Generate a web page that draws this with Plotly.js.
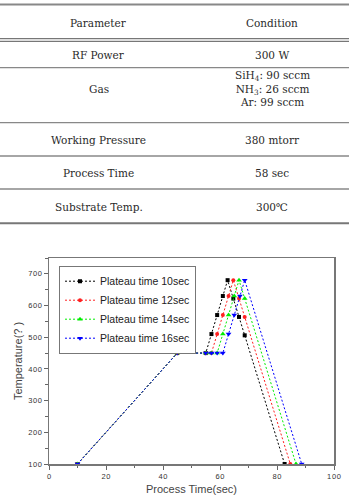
<!DOCTYPE html>
<html>
<head>
<meta charset="utf-8">
<script src="https://cdn.plot.ly/plotly-3.0.1.min.js"></script>
<style>
  html, body { margin: 0; padding: 0; background: #fff; }
  #chart { width: 349px; height: 498px; }
</style>
</head>
<body>
<div id="chart"></div>
<script>
// ---- Deposition conditions table ----
const tableHeader = ['Parameter', 'Condition'];
const paramNames = ['RF Power', 'Gas', 'Working Pressure', 'Process Time', 'Substrate Temp.'];
const paramValues = ['300 W', null, '380 mtorr', '58 sec', '300℃'];
const gasLines = ['SiH<sub>4</sub>: 90 sccm', 'NH<sub>3</sub>: 26 sccm', 'Ar: 99 sccm'];

// ---- Temperature profiles (time in sec, temperature) ----
const seriesNames = ['Plateau time 10sec', 'Plateau time 12sec', 'Plateau time 14sec', 'Plateau time 16sec'];
const time10 = [10, 45, 55, 57, 59, 61, 62.67, 64.67, 66.67, 68.67, 82.67];
const temp10 = [100, 450, 450, 510, 570, 630, 680, 622, 564, 506, 100];
const time12 = [10, 45, 55, 57, 59, 61, 63, 64.67, 66.67, 68.67, 84.67];
const temp12 = [100, 450, 450, 450, 510, 570, 630, 680, 622, 564, 100];
const time14 = [10, 45, 55, 57, 59, 61, 63, 65, 66.67, 68.67, 86.67];
const temp14 = [100, 450, 450, 450, 450, 510, 570, 630, 680, 622, 100];
const time16 = [10, 45, 55, 57, 59, 61, 63, 65, 67, 68.67, 88.67];
const temp16 = [100, 450, 450, 450, 450, 450, 510, 570, 630, 680, 100];

const xTickVals = [0, 20, 40, 60, 80, 100];
const yTickVals = [100, 200, 300, 400, 500, 600, 700];

// ---- page geometry ----
const W = 349, H = 498;
const M = { l: 49, r: 15, t: 258, b: 34 };
const PW = W - M.l - M.r, PH = H - M.t - M.b;
const px2x = p => (p - M.l) / PW;          // page pixel -> paper x
const py2y = p => (H - M.b - p) / PH;      // page pixel -> paper y

// spaced digits for the tick labels
const spaced = v => String(v).split('').join('\u200a');

const styles = [
  { color: '#000000', symbol: 'square', size: 4 },
  { color: '#ff2020', symbol: 'circle', size: 4 },
  { color: '#00ee00', symbol: 'triangle-up', size: 5 },
  { color: '#0000ff', symbol: 'triangle-down', size: 5 }
];
const xs = [time10, time12, time14, time16];
const ys = [temp10, temp12, temp14, temp16];

const traces = seriesNames.map((name, i) => ({
  type: 'scatter',
  mode: 'lines+markers',
  name: name,
  x: xs[i],
  y: ys[i],
  line: { color: styles[i].color, width: 1, dash: '2px,2px' },
  marker: { color: styles[i].color, symbol: styles[i].symbol, size: styles[i].size, line: { width: 0 } }
}));

// ---- table: rules and text ----
const tableFont = { family: 'DejaVu Serif', size: 10.5, color: '#2a2a2a' };
const colX = [98.5, 272];
const headerY = 23.3;
const rowY = [55, 89, 140, 173.3, 206.7];
const ruleLines = [
  { y: 4.5, w: 1.8, c: '#888' },
  { y: 38.6, w: 1.2, c: '#777' },
  { y: 41.4, w: 1.2, c: '#777' },
  { y: 67.7, w: 1.3, c: '#888' },
  { y: 122.7, w: 1.3, c: '#888' },
  { y: 156, w: 1.3, c: '#888' },
  { y: 189, w: 1.3, c: '#888' },
  { y: 223.3, w: 2, c: '#777' }
];

const shapes = ruleLines.map(r => ({
  type: 'line', xref: 'paper', yref: 'paper',
  x0: px2x(0), x1: px2x(W), y0: py2y(r.y), y1: py2y(r.y),
  line: { color: r.c, width: r.w }
}));

const annotations = [];
const addText = (text, x, y) => annotations.push({
  text: text, xref: 'paper', yref: 'paper', x: px2x(x), y: py2y(y),
  xanchor: 'center', yanchor: 'middle', showarrow: false, font: tableFont
});
tableHeader.forEach((h, j) => addText(h, colX[j], headerY));
paramNames.forEach((p, i) => {
  addText(p, colX[0], rowY[i]);
  addText(paramValues[i] !== null ? paramValues[i] : gasLines.join('<br>'), colX[1], rowY[i]);
});

const axisCommon = {
  showgrid: false, zeroline: false,
  showline: true, linecolor: '#777', linewidth: 1.5, mirror: true,
  ticks: 'outside', ticklen: 4, tickwidth: 1, tickcolor: '#666',
  tickfont: { family: 'Liberation Sans', size: 7.5, color: '#333' }
};

const layout = {
  width: W, height: H,
  margin: M,
  paper_bgcolor: '#fff', plot_bgcolor: '#fff',
  showlegend: true,
  legend: {
    x: px2x(59), y: py2y(265.7), xanchor: 'left', yanchor: 'top',
    bgcolor: '#fff', bordercolor: '#777', borderwidth: 1,
    tracegroupgap: 0,
    font: { family: 'Liberation Sans', size: 10.5, color: '#222' }
  },
  xaxis: Object.assign({}, axisCommon, {
    range: [0, 100],
    tickmode: 'array', tickvals: xTickVals, ticktext: xTickVals.map(spaced),
    minor: { dtick: 10, ticks: 'outside', ticklen: 2.5, tickcolor: '#666' },
    title: { text: 'Process Time(sec)', font: { family: 'Liberation Sans', size: 11, color: '#444' }, standoff: 6 }
  }),
  yaxis: Object.assign({}, axisCommon, {
    range: [100, 750],
    tickmode: 'array', tickvals: yTickVals, ticktext: yTickVals.map(spaced),
    minor: { dtick: 50, ticks: 'outside', ticklen: 2.5, tickcolor: '#666' },
    title: { text: 'Temperature(? )', font: { family: 'Liberation Sans', size: 11, color: '#444' }, standoff: 3 }
  }),
  shapes: shapes,
  annotations: annotations
};

Plotly.newPlot('chart', traces, layout, { displayModeBar: false, staticPlot: true });
</script>
</body>
</html>
